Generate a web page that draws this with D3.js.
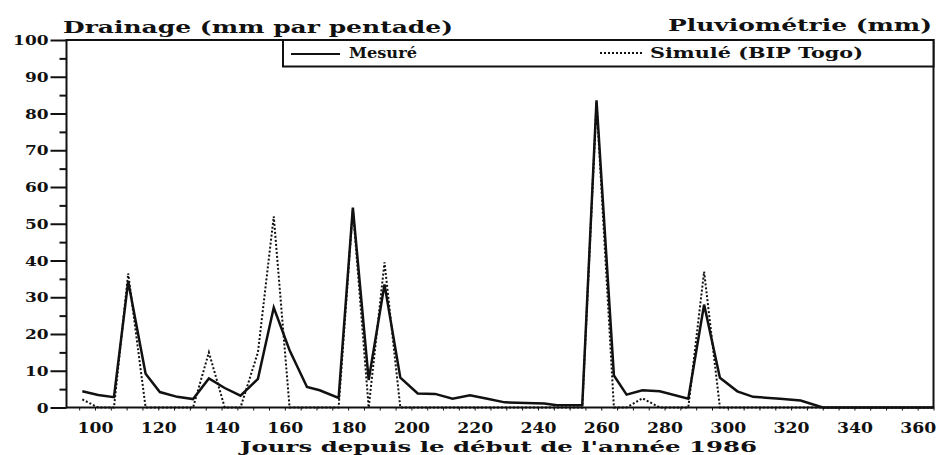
<!DOCTYPE html>
<html>
<head>
<meta charset="utf-8">
<script src="https://cdn.jsdelivr.net/npm/d3@7/dist/d3.min.js"></script>
<style>
  html, body { margin: 0; padding: 0; background: #fff; }
  svg { display: block; }
  text { font-family: "DejaVu Serif", serif; font-weight: bold; fill: #111; }
</style>
</head>
<body>
<svg id="chart" width="942" height="455"></svg>
<script>
// Pentade dates (day of year) and drainage per pentade (mm)
const days = [96, 101, 106, 110.5, 116, 120.5, 126, 131, 136, 141, 146, 151.5, 156.5, 161.5, 167, 171, 177,
  181.5, 186.5, 191.5, 196.5, 202, 207.5, 213, 218.5, 224, 229.5, 242, 246, 254, 258.5, 264, 268, 273,
  278.5, 287.5, 292.5, 297.5, 303, 308, 316.5, 323, 330, 365];
const mesure = [4.4, 3.4, 2.8, 34.3, 9.2, 4.2, 2.9, 2.3, 7.9, 5.3, 3.2, 7.8, 27.2, 15.6, 5.6, 4.7, 2.6,
  54.4, 7.5, 33.5, 8.1, 3.8, 3.7, 2.4, 3.3, 2.4, 1.4, 1.1, 0.6, 0.6, 83.6, 8.7, 3.5, 4.7,
  4.4, 2.4, 28.0, 8.1, 4.4, 2.9, 2.4, 1.9, 0, 0];
const simule = [2.2, 0, 0, 36.5, 0, 0, 0, 0, 15, 0, 0, 15, 52, 0, 0, 0, 0,
  54, 0, 39.5, 0, 0, 0, 0, 0, 0, 0, 0, 0, 0, 83, 0, 0, 2.5,
  0, 0, 37, 0, 0, 0, 0, 0, 0, 0];

const xTicks = [100, 120, 140, 160, 180, 200, 220, 240, 260, 280, 300, 320, 340, 360];
const yTicks = [0, 10, 20, 30, 40, 50, 60, 70, 80, 90, 100];
const yMinorTicks = [5, 15, 25, 35, 45, 55, 65, 75, 85, 95];

const titleLeft = "Drainage (mm par pentade)";
const titleRight = "Pluviométrie (mm)";
const xTitle = "Jours depuis le début de l'année 1986";
const legendLabels = ["Mesuré", "Simulé (BIP Togo)"];

const svg = d3.select("#chart");
const x = d3.scaleLinear().domain([91, 365]).range([66.5, 933.5]);
const y = d3.scaleLinear().domain([0, 100]).range([407.5, 40]);

// stretch a text element horizontally to a given width
function fit(sel, w) {
  sel.attr("textLength", w).attr("lengthAdjust", "spacingAndGlyphs");
}

// y axis: major ticks with labels, minor ticks without
const yAxis = svg.append("g").attr("transform", `translate(${x(91)},0)`)
  .call(d3.axisLeft(y).tickValues(yTicks).tickSize(16).tickPadding(2).tickFormat(d3.format("d")));
yAxis.select(".domain").remove();
yAxis.selectAll(".tick line").attr("stroke", "#111").attr("stroke-width", 2);
yAxis.selectAll(".tick text")
  .style("font-size", "13px").attr("dy", "0.36em")
  .each(function(d) { fit(d3.select(this), String(d).length * 11.8); });

const yMinor = svg.append("g").attr("transform", `translate(${x(91)},0)`)
  .call(d3.axisLeft(y).tickValues(yMinorTicks).tickSize(7).tickFormat(""));
yMinor.select(".domain").remove();
yMinor.selectAll(".tick line").attr("stroke", "#111").attr("stroke-width", 2);

// x axis
const xAxis = svg.append("g").attr("transform", `translate(0,${y(0)})`)
  .call(d3.axisBottom(x).tickValues(xTicks).tickSize(0).tickPadding(16).tickFormat(d3.format("d")));
xAxis.select(".domain").remove();
xAxis.selectAll(".tick text")
  .style("font-size", "14px")
  .each(function(d) { fit(d3.select(this), String(d).length * 12); });

const xMinor = svg.append("g").attr("transform", `translate(0,${y(0)})`)
  .call(d3.axisBottom(x).tickValues(d3.range(95, 366, 5)).tickSize(3).tickFormat(""));
xMinor.select(".domain").remove();
xMinor.selectAll(".tick line").attr("stroke", "#111").attr("stroke-width", 1);

// plot frame
svg.append("rect")
  .attr("x", x(91)).attr("y", y(100))
  .attr("width", x(365) - x(91)).attr("height", y(0) - y(100))
  .attr("fill", "none").attr("stroke", "#111").attr("stroke-width", 2);

// series
const pts = (vals) => days.map((d, i) => [d, vals[i]]);
const line = d3.line().x(d => x(d[0])).y(d => y(d[1]));

svg.append("path").datum(pts(simule))
  .attr("d", line).attr("fill", "none").attr("stroke", "#111")
  .attr("stroke-width", 2).attr("stroke-dasharray", "2,2");

svg.append("path").datum(pts(mesure))
  .attr("d", line).attr("fill", "none").attr("stroke", "#111")
  .attr("stroke-width", 2.5).attr("stroke-linejoin", "miter");

// legend
const lg = svg.append("g");
lg.append("rect").attr("x", 283).attr("y", 40).attr("width", x(365) - 283).attr("height", 26.5)
  .attr("fill", "#fff").attr("stroke", "#111").attr("stroke-width", 2);
lg.append("line").attr("x1", 291).attr("x2", 340).attr("y1", 54).attr("y2", 54)
  .attr("stroke", "#111").attr("stroke-width", 2);
lg.append("text").attr("x", 349).attr("y", 58).style("font-size", "15px").text(legendLabels[0])
  .call(fit, 68);
lg.append("line").attr("x1", 600).attr("x2", 644).attr("y1", 53).attr("y2", 53)
  .attr("stroke", "#111").attr("stroke-width", 2).attr("stroke-dasharray", "2,2");
lg.append("text").attr("x", 650).attr("y", 58).style("font-size", "15px").text(legendLabels[1])
  .call(fit, 213);

// titles
svg.append("text").attr("x", 63).attr("y", 33).style("font-size", "17px").text(titleLeft)
  .call(fit, 390);
svg.append("text").attr("x", 932).attr("y", 31).attr("text-anchor", "end").style("font-size", "17px")
  .text(titleRight).call(fit, 264);
svg.append("text").attr("x", 240).attr("y", 452).style("font-size", "14.5px").text(xTitle)
  .call(fit, 517);
</script>
</body>
</html>
